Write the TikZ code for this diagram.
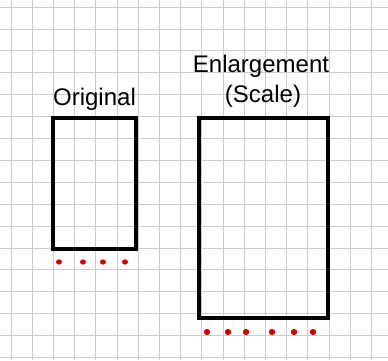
\documentclass[tikz,border=0pt]{standalone}
\usepackage{fontspec}
\setmainfont{Liberation Sans}
\begin{document}
\begin{tikzpicture}[x=1pt,y=-1pt,
  gridline/.style={draw=gray!40,line width=0.8pt},
  box/.style={draw=black,line width=3.2pt},
  dotmark/.style={fill=red!85!black,draw=none},
  lbl/.style={font=\fontsize{24}{28}\selectfont,inner sep=0pt,anchor=base}]
\useasboundingbox (0,0) rectangle (388,360);
\fill[white] (0,0) rectangle (388,360);
\foreach \i in {0,...,17} \draw[gridline] ({11+21.2*\i},0) -- ({11+21.2*\i},360);
\foreach \j in {0,...,16} \draw[gridline] (0,{7+21.9*\j}) -- (388,{7+21.9*\j});
\draw[box] (53,118) rectangle (136,249);
\draw[box] (199,118) rectangle (328,318);
\node[lbl] (orig) at (94.5,105) {Original};
\node[lbl] (enl) at (261,72) {Enlargement};
\node[lbl] (scale) at (263,102) {(Scale)};
\foreach \x in {59,83,103,125} \fill[dotmark] (\x,262) ellipse (3 and 2.6);
\foreach \x in {207,228,246,272,294,313} \fill[dotmark] (\x,332) ellipse (3.2 and 3.1);
\end{tikzpicture}
\end{document}
